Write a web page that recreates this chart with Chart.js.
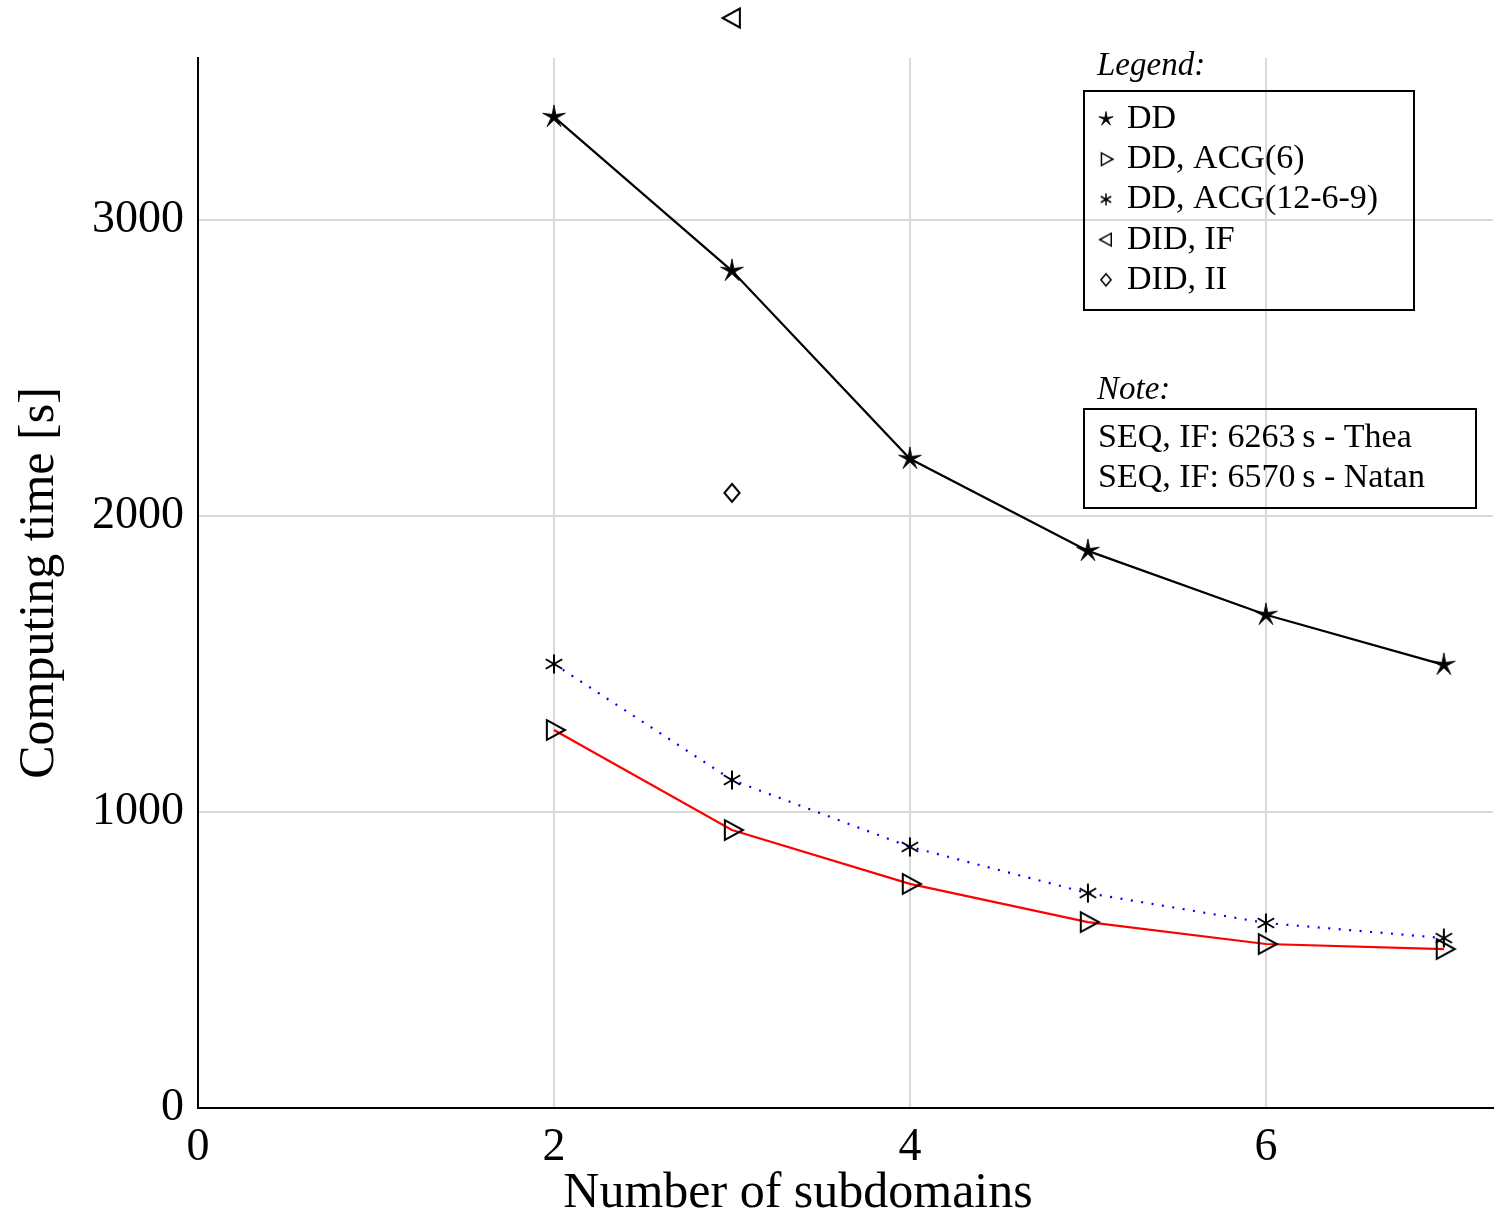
<!DOCTYPE html>
<html>
<head>
<meta charset="utf-8">
<script src="https://cdn.jsdelivr.net/npm/chart.js@4.4.1/dist/chart.umd.min.js"></script>
<style>
  html, body { margin: 0; padding: 0; background: #fff; }
  canvas { display: block; }
</style>
</head>
<body>
<canvas id="timeChart" width="1499" height="1218"></canvas>
<script>
// values
const subdomains = [2, 3, 4, 5, 6, 7];
const ddTime = [3348, 2828, 2193, 1882, 1666, 1497];
const acg6Time = [1277, 939, 757, 628, 554, 537];
const acg1269Time = [1500, 1108, 882, 726, 625, 574];
const didIfSub = [3];
const didIfTime = [3682];
const didIiSub = [3];
const didIiTime = [2078];

const xTicks = [0, 2, 4, 6];
const yTicks = [0, 1000, 2000, 3000];

const legendLabels = ['DD', 'DD, ACG(6)', 'DD, ACG(12-6-9)', 'DID, IF', 'DID, II'];
const noteLines = ['SEQ, IF: 6263\u2009s - Thea', 'SEQ, IF: 6570\u2009s - Natan'];

const SERIF = '"Liberation Serif", "Times New Roman", serif';

function toPoints(xs, ys) {
  return xs.map((x, i) => ({ x: x, y: ys[i] }));
}

// small canvases used as point styles
function makeMarker(type, s) {
  const pad = 3;
  const size = Math.ceil(s * 2 + pad * 2);
  const c = document.createElement('canvas');
  c.width = size % 2 ? size + 1 : size;
  c.height = c.width;
  const g = c.getContext('2d');
  const m = c.width / 2;
  g.translate(m, m);
  g.strokeStyle = '#000';
  g.fillStyle = '#000';
  g.lineWidth = s > 8 ? 2 : 1.5;
  g.beginPath();
  if (type === 'star') {
    for (let i = 0; i < 10; i++) {
      const r = i % 2 ? s * 0.26 : s;
      const a = -Math.PI / 2 + i * Math.PI / 5;
      g.lineTo(r * Math.cos(a), r * Math.sin(a));
    }
    g.closePath();
    g.fill();
    g.lineWidth = 0.8;
    g.stroke();
  } else if (type === 'right') {
    g.moveTo(-s * 0.65, -s * 0.9);
    g.lineTo(-s * 0.65, s * 0.9);
    g.lineTo(s, 0);
    g.closePath();
    g.stroke();
  } else if (type === 'left') {
    g.moveTo(s * 0.75, -s * 0.9);
    g.lineTo(s * 0.75, s * 0.9);
    g.lineTo(-s * 0.9, 0);
    g.closePath();
    g.stroke();
  } else if (type === 'aster') {
    [90, 30, -30].forEach(d => {
      const a = d * Math.PI / 180;
      g.moveTo(-s * Math.cos(a), -s * Math.sin(a));
      g.lineTo(s * Math.cos(a), s * Math.sin(a));
    });
    g.stroke();
  } else if (type === 'diamond') {
    g.moveTo(0, -s);
    g.lineTo(s * 0.85, 0);
    g.lineTo(0, s);
    g.lineTo(-s * 0.85, 0);
    g.closePath();
    g.stroke();
  }
  return c;
}

const markers = {
  star: makeMarker('star', 12),
  right: makeMarker('right', 11),
  aster: makeMarker('aster', 9.5),
  left: makeMarker('left', 10.5),
  diamond: makeMarker('diamond', 9)
};
const legendMarkers = [
  makeMarker('star', 7.5),
  makeMarker('right', 7),
  makeMarker('aster', 6),
  makeMarker('left', 7),
  makeMarker('diamond', 6)
];

const annotations = {
  id: 'annotations',
  afterDatasetsDraw(chart) {
    // the DID, IF point sits above the plot area; draw it without the area check
    const wide = { left: -1e5, right: 1e5, top: -1e5, bottom: 1e5 };
    chart.getDatasetMeta(3).data.forEach(el => el.draw(chart.ctx, wide));
  },
  afterDraw(chart) {
    const ctx = chart.ctx;
    ctx.save();
    ctx.fillStyle = '#000';
    ctx.strokeStyle = '#000';
    ctx.lineWidth = 2;

    // axis titles
    ctx.font = '50px ' + SERIF;
    ctx.textAlign = 'center';
    ctx.textBaseline = 'middle';
    ctx.fillText('Number of subdomains', 798, 1194);
    ctx.save();
    ctx.translate(40, 583);
    ctx.rotate(-Math.PI / 2);
    ctx.fillText('Computing time [s]', 0, 0);
    ctx.restore();

    // legend box
    ctx.textAlign = 'left';
    ctx.font = 'italic 33px ' + SERIF;
    ctx.fillText('Legend:', 1097, 66);
    ctx.strokeRect(1084, 91, 330, 219);
    ctx.font = '34px ' + SERIF;
    legendLabels.forEach((label, i) => {
      const y = 119 + i * 40.2;
      const m = legendMarkers[i];
      ctx.drawImage(m, 1106 - m.width / 2, y - m.height / 2);
      ctx.fillText(label, 1127, y);
    });

    // note box
    ctx.font = 'italic 33px ' + SERIF;
    ctx.fillText('Note:', 1097, 390);
    ctx.strokeRect(1084, 409, 392, 99);
    ctx.font = '34px ' + SERIF;
    noteLines.forEach((line, i) => {
      ctx.fillText(line, 1098, 438 + i * 40);
    });
    ctx.restore();
  }
};

new Chart(document.getElementById('timeChart'), {
  type: 'line',
  data: {
    datasets: [
      {
        label: 'DD',
        data: toPoints(subdomains, ddTime),
        borderColor: '#000',
        borderWidth: 2.2,
        pointStyle: markers.star,
        tension: 0
      },
      {
        label: 'DD, ACG(6)',
        data: toPoints(subdomains, acg6Time),
        borderColor: '#ff0000',
        borderWidth: 2.2,
        pointStyle: markers.right,
        tension: 0
      },
      {
        label: 'DD, ACG(12-6-9)',
        data: toPoints(subdomains, acg1269Time),
        borderColor: '#0000ff',
        borderWidth: 2.2,
        borderDash: [2, 8.5],
        pointStyle: markers.aster,
        tension: 0
      },
      {
        label: 'DID, IF',
        data: toPoints(didIfSub, didIfTime),
        showLine: false,
        pointStyle: markers.left,
        clip: false
      },
      {
        label: 'DID, II',
        data: toPoints(didIiSub, didIiTime),
        showLine: false,
        pointStyle: markers.diamond
      }
    ]
  },
  options: {
    responsive: false,
    animation: false,
    events: [],
    layout: { padding: { top: 58, right: 0, left: 0, bottom: 0 } },
    plugins: {
      legend: { display: false },
      tooltip: { enabled: false }
    },
    scales: {
      x: {
        type: 'linear',
        min: 0,
        max: 7.275,
        afterBuildTicks: s => { s.ticks = xTicks.map(v => ({ value: v })); },
        afterFit: s => { s.height = 110; s.paddingLeft = 0; s.paddingRight = 0; },
        grid: { color: '#d9d9d9', lineWidth: 2, drawTicks: false },
        border: { color: '#000', width: 2 },
        ticks: {
          color: '#000',
          padding: 12,
          callback: v => String(v),
          font: { family: SERIF, size: 46 }
        }
      },
      y: {
        type: 'linear',
        min: 0,
        max: 3547,
        afterBuildTicks: s => { s.ticks = yTicks.map(v => ({ value: v })); },
        afterFit: s => { s.width = 198; s.paddingTop = 0; s.paddingBottom = 0; },
        grid: { color: '#d9d9d9', lineWidth: 2, drawTicks: false },
        border: { color: '#000', width: 2 },
        ticks: {
          color: '#000',
          padding: 14,
          callback: v => String(v),
          font: { family: SERIF, size: 46 }
        }
      }
    }
  },
  plugins: [annotations]
});
</script>
</body>
</html>
